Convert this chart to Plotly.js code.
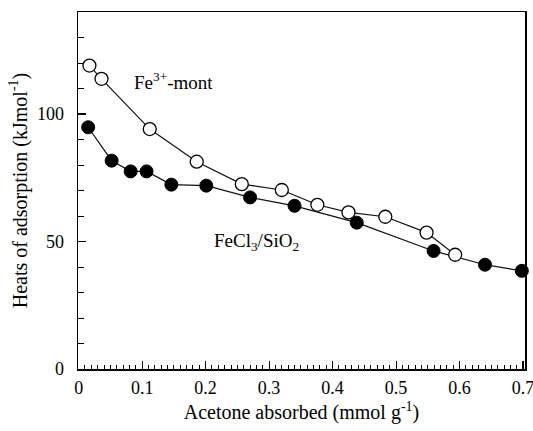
<!DOCTYPE html>
<html>
<head>
<meta charset="utf-8">
<script src="https://cdn.plot.ly/plotly-3.0.1.min.js"></script>
<style>html,body{margin:0;padding:0;background:#fff;}#chart{width:533px;height:431px;}</style>
</head>
<body>
<div id="chart"></div>
<script>
// Fe3+-montmorillonite (open circles)
const montX = [0.017, 0.036, 0.112, 0.186, 0.257, 0.320, 0.376, 0.425, 0.483, 0.548, 0.593];
const montY = [119.0, 113.8, 94.1, 81.3, 72.5, 70.2, 64.4, 61.4, 59.7, 53.5, 44.8];
// FeCl3/SiO2 (filled circles)
const silicaX = [0.015, 0.052, 0.082, 0.107, 0.146, 0.201, 0.270, 0.340, 0.438, 0.559, 0.640, 0.698];
const silicaY = [94.8, 81.7, 77.5, 77.5, 72.3, 71.9, 67.3, 64.0, 57.4, 46.3, 40.9, 38.5];
const xTickVals = [0, 0.1, 0.2, 0.3, 0.4, 0.5, 0.6, 0.7];
const xTickText = ['0', '0.1', '0.2', '0.3', '0.4', '0.5', '0.6', '0.7'];
const yTickVals = [0, 50, 100];
const yTickText = ['0', '50', '100'];
const xTitle = 'Acetone absorbed (mmol g<sup>-1</sup>)';
const yTitle = 'Heats of adsorption (kJmol<sup>-1</sup>)';
const montLabel = 'Fe<sup>3+</sup>-mont';
const silicaLabel = 'FeCl<sub>3</sub>/SiO<sub>2</sub>';

const font = 'Liberation Serif';
const traces = [
  {x: silicaX, y: silicaY, type: 'scatter', mode: 'lines+markers', cliponaxis: false,
   line: {color: '#111', width: 1.2},
   marker: {symbol: 'circle', size: 13, color: '#000', line: {color: '#000', width: 1}}},
  {x: montX, y: montY, type: 'scatter', mode: 'lines+markers', cliponaxis: false,
   line: {color: '#111', width: 1.2},
   marker: {symbol: 'circle', size: 13, color: '#fff', line: {color: '#000', width: 1.3}}}
];
const layout = {
  width: 533, height: 431,
  margin: {l: 78, r: 8, t: 12, b: 62},
  paper_bgcolor: '#fff', plot_bgcolor: '#fff',
  showlegend: false,
  font: {family: font, color: '#000', size: 18},
  xaxis: {
    range: [-0.001, 0.703], tickvals: xTickVals, ticktext: xTickText,
    ticks: 'inside', ticklen: 8, tickwidth: 1.2, tickcolor: '#000',
    minor: {dtick: 0.01, ticks: 'inside', ticklen: 4, tickwidth: 1, tickcolor: '#000', showgrid: false},
    showgrid: false, zeroline: false, showline: true, linecolor: '#000', linewidth: 1.5, mirror: true,
    tickfont: {family: font, size: 18}, ticklabeloverflow: 'allow', ticklabelstandoff: 2,
    automargin: false,
    title: {text: xTitle, font: {family: font, size: 20}, standoff: 8}
  },
  yaxis: {
    range: [0, 140], tickvals: yTickVals, ticktext: yTickText,
    ticks: 'inside', ticklen: 8, tickwidth: 1.2, tickcolor: '#000',
    minor: {dtick: 10, ticks: 'inside', ticklen: 6, tickwidth: 1, tickcolor: '#000', showgrid: false},
    showgrid: false, zeroline: false, showline: true, linecolor: '#000', linewidth: 1.5, mirror: true,
    tickfont: {family: font, size: 18}, ticklabelstandoff: 9, automargin: false,
    title: {text: yTitle, font: {family: font, size: 20}, standoff: 4}
  },
  annotations: [
    {x: 0.150, y: 113, xref: 'x', yref: 'y', text: montLabel, showarrow: false,
     font: {family: font, size: 19, color: '#000'}},
    {x: 0.280, y: 50, xref: 'x', yref: 'y', text: silicaLabel, showarrow: false,
     font: {family: font, size: 19, color: '#000'}}
  ]
};
Plotly.newPlot('chart', traces, layout, {displayModeBar: false, staticPlot: true});
</script>
</body>
</html>
